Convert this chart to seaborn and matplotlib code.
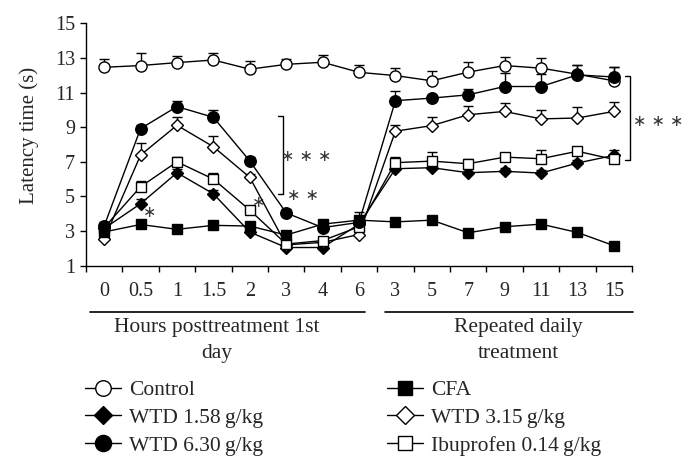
import numpy as np
import matplotlib
matplotlib.use("Agg")
import matplotlib.pyplot as plt
import matplotlib.transforms as mtransforms
from matplotlib.lines import Line2D
import seaborn as sns


x_labels = ["0", "0.5", "1", "1.5", "2", "3", "4", "6",
            "3", "5", "7", "9", "11", "13", "15"]

control = [12.46, 12.56, 12.73, 12.88, 12.35, 12.63, 12.75, 12.17,
           11.98, 11.68, 12.18, 12.56, 12.41, 12.06, 11.68]
control_err = [0.5, 0.7, 0.4, 0.4, 0.45, 0.3, 0.42, 0.42,
               0.46, 0.54, 0.61, 0.52, 0.56, 0.54, 0.8]

cfa = [2.95, 3.38, 3.1, 3.33, 3.29, 2.77, 3.4, 3.63,
       3.53, 3.63, 2.9, 3.25, 3.4, 2.92, 2.16]
cfa_err = [0.2, 0.15, 0.15, 0.15, 0.15, 0.15, 0.2, 0.5,
           0.15, 0.15, 0.15, 0.15, 0.15, 0.15, 0.15]

wtd158 = [3.15, 4.58, 6.37, 5.15, 2.94, 2.05, 2.05, 3.4,
          6.6, 6.66, 6.37, 6.45, 6.35, 6.93, 7.37]
wtd158_err = [0.2, 0.3, 0.2, 0.2, 0.2, 0.15, 0.15, 0.2,
              0.2, 0.2, 0.2, 0.2, 0.2, 0.2, 0.3]

wtd315 = [2.55, 7.39, 9.11, 7.87, 6.1, 2.2, 2.35, 2.8,
          8.77, 9.09, 9.72, 9.91, 9.48, 9.53, 9.91]
wtd315_err = [0.15, 0.67, 0.5, 0.62, 0.2, 0.15, 0.15, 0.2,
              0.36, 0.52, 0.52, 0.46, 0.52, 0.65, 0.57]

wtd630 = [3.3, 8.92, 10.19, 9.57, 7.05, 4.05, 3.2, 3.5,
          10.53, 10.68, 10.87, 11.35, 11.35, 12.02, 11.9]
wtd630_err = [0.2, 0.2, 0.3, 0.42, 0.2, 0.2, 0.2, 0.2,
              0.57, 0.2, 0.36, 0.8, 0.7, 0.57, 0.57]

ibuprofen = [3.2, 5.56, 7.0, 6.0, 4.21, 2.25, 2.45, 3.25,
             6.95, 7.04, 6.89, 7.27, 7.18, 7.61, 7.14]
ibuprofen_err = [0.15, 0.33, 0.3, 0.33, 0.2, 0.15, 0.15, 0.2,
                 0.3, 0.52, 0.3, 0.2, 0.48, 0.2, 0.2]


sns.set_style("ticks")
plt.rcParams["font.family"] = ["Liberation Serif", "DejaVu Serif"]

fig = plt.figure(figsize=(6.88, 4.70), dpi=100)
ax = fig.add_axes([0.125, 0.4347, 0.7936, 0.5157])

pos = np.arange(len(x_labels))

# name, values, errors, marker, face, size
series = [
    ("Control", control, control_err, "o", "white", 8),
    ("WTD 1.58\u2009g/kg", wtd158, wtd158_err, "D", "black", 6.6),
    ("WTD 3.15\u2009g/kg", wtd315, wtd315_err, "D", "white", 6.6),
    ("Ibuprofen 0.14\u2009g/kg", ibuprofen, ibuprofen_err, "s", "white", 7.6),
    ("WTD 6.30\u2009g/kg", wtd630, wtd630_err, "o", "black", 8.3),
    ("CFA", cfa, cfa_err, "s", "black", 7.6),
]

handles = {}
for i, (name, vals, err, mk, face, ms) in enumerate(series):
    ax.errorbar(pos, vals, yerr=[np.zeros(len(err)), err], fmt="none",
                ecolor="black", elinewidth=1.0, capsize=3.5, capthick=1.0,
                zorder=1)
    sns.lineplot(x=pos, y=vals, ax=ax, color="black", linewidth=1.0,
                 marker=mk, markersize=ms, markerfacecolor=face,
                 markeredgecolor="black", markeredgewidth=1.0,
                 zorder=3 + i)
    legend_ms = ms * 1.4
    handles[name] = Line2D([], [], color="black", linewidth=1.0, marker=mk,
                           markersize=legend_ms, markerfacecolor=face,
                           markeredgecolor="black", markeredgewidth=1.0)

ax.set_xlim(-0.5, 14.5)
ax.set_ylim(1, 15)
ax.set_yticks(np.arange(1, 16, 2))
ax.set_xticks(pos)
ax.set_xticklabels(x_labels)
ax.set_xticks(np.arange(-0.5, 15, 1), minor=True)
ax.tick_params(axis="x", which="major", length=0, pad=12, labelsize=14.5)
ax.tick_params(axis="x", which="minor", length=4, width=1.0,
               direction="out", color="black")
ax.tick_params(axis="y", length=4, width=1.0, direction="out",
               labelsize=14.5, pad=4, color="black")
ax.set_xlabel("")
ax.set_ylabel("Latency time (s)", fontsize=15)
ax.yaxis.set_label_coords(-0.086, 0.539)
sns.despine(ax=ax)
for sp in ["left", "bottom"]:
    ax.spines[sp].set_linewidth(1.0)
    ax.spines[sp].set_color("black")

# significance marks
star_font = ["DejaVu Sans"]
ax.plot([4.78, 4.92, 4.92, 4.78], [9.67, 9.67, 5.12, 5.12],
        color="black", lw=1.0, clip_on=False)
ax.text(5.55, 7.3, "\u2217 \u2217 \u2217", ha="center", va="center",
        fontsize=11.5, family=star_font, color="#333333")
ax.text(5.47, 5.06, "\u2217 \u2217", ha="center", va="center",
        fontsize=11.5, family=star_font, color="#333333")
ax.text(1.26, 4.1, "\u2217", ha="center", va="center",
        fontsize=11.5, family=star_font, color="#333333")
ax.text(4.23, 4.67, "\u2217", ha="center", va="center",
        fontsize=11.5, family=star_font, color="#333333")
ax.plot([14.31, 14.45, 14.45, 14.31], [11.97, 11.97, 7.08, 7.08],
        color="black", lw=1.0, clip_on=False)
ax.text(15.22, 9.3, "\u2217 \u2217 \u2217", ha="center", va="center",
        fontsize=11.5, family=star_font, color="#333333")

# group labels under the x axis
trans = mtransforms.blended_transform_factory(ax.transData, ax.transAxes)
ax.plot([-0.38, 7.17], [-0.191, -0.191], color="black", lw=1.2,
        transform=trans, clip_on=False)
ax.plot([7.72, 14.53], [-0.191, -0.191], color="black", lw=1.2,
        transform=trans, clip_on=False)
ax.text(3.1, -0.214, "Hours posttreatment 1st\nday", transform=trans,
        ha="center", va="top", fontsize=15.5, linespacing=1.55)
ax.text(11.37, -0.214, "Repeated daily\ntreatment", transform=trans,
        ha="center", va="top", fontsize=15.5, linespacing=1.55)

left_names = ["Control", "WTD 1.58\u2009g/kg", "WTD 6.30\u2009g/kg"]
right_names = ["CFA", "WTD 3.15\u2009g/kg", "Ibuprofen 0.14\u2009g/kg"]
for names, x0 in [(left_names, 85 / 688), (right_names, 387 / 688)]:
    fig.legend([handles[n] for n in names], names, loc="upper left",
               bbox_to_anchor=(x0, 1 - 380 / 470), frameon=False,
               fontsize=15.5, handlelength=1.65, handletextpad=0.4,
               labelspacing=0.36, borderpad=0, borderaxespad=0)

fig.savefig("out.png", dpi=100)
